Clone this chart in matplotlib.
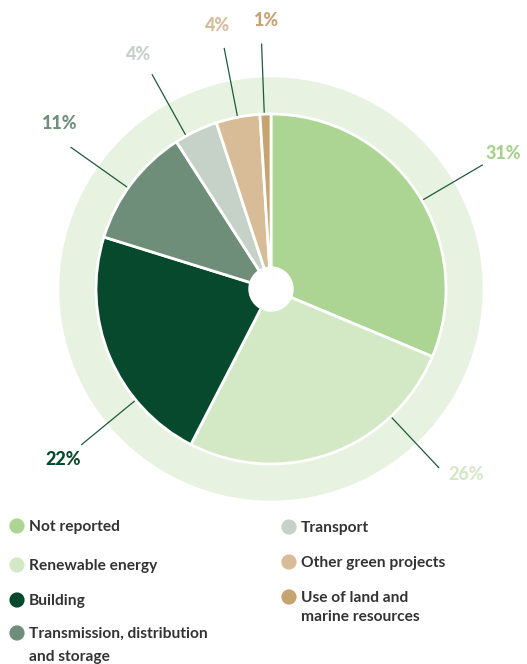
import matplotlib
matplotlib.use("Agg")
import matplotlib.pyplot as plt
import numpy as np
from matplotlib.patches import Circle

# Share of green bond proceeds by use category (%)
categories = ["Not reported", "Renewable energy", "Building",
              "Transmission, distribution\nand storage", "Transport",
              "Other green projects", "Use of land and\nmarine resources"]
values = [31, 26, 22, 11, 4, 4, 1]
value_labels = ["31%", "26%", "22%", "11%", "4%", "4%", "1%"]

colors = ["#acd593", "#d3e9c6", "#07492d", "#6f8e7a", "#c6d1c8", "#d8bc98", "#c5a470"]
label_colors = ["#a8d08d", "#d4e8c8", "#084a2c", "#6f8f7b", "#c5d0c8", "#d6bc98", "#c4a472"]
ring_color = "#e7f2e0"
leader_color = "#1f5a3c"
text_color = "#333333"

# Leader-line angles (deg) and label text angles
leader_angles = [30.4, -46.8, -140.6, 144.7, 119.0, 101.0, 92.2]
text_angles = [30.3, -43.5, -140.6, 141.9, 119.4, 101.4, 91.0]

W, H = 527, 664
fig = plt.figure(figsize=(W / 100, H / 100), dpi=100)
ax = fig.add_axes([0, 0, 1, 1])

cx, cy = 271, H - 289
r_pie, r_ring, r_hole = 175, 211, 22

ax.add_patch(Circle((cx, cy), r_ring, color=ring_color, zorder=0))
ax.pie(values, colors=colors, startangle=90, counterclock=False,
       center=(cx, cy), radius=r_pie, frame=True,
       wedgeprops=dict(edgecolor="white", linewidth=2))
ax.set_xlim(0, W)
ax.set_ylim(0, H)
ax.set_aspect("equal")
ax.axis("off")
ax.add_patch(Circle((cx, cy), r_hole, color="white", zorder=5))

for lab, col, la, ta in zip(value_labels, label_colors, leader_angles, text_angles):
    a = np.deg2rad(la)
    ax.plot([cx + 177 * np.cos(a), cx + 245 * np.cos(a)],
            [cy + 177 * np.sin(a), cy + 245 * np.sin(a)],
            color=leader_color, lw=0.9, zorder=6)
    t = np.deg2rad(ta)
    ax.text(cx + 269 * np.cos(t), cy + 269 * np.sin(t), lab, color=col,
            fontsize=13, fontweight="black", family="Lato",
            ha="center", va="center", zorder=6)

# Two-column legend
left_x, right_x = 17, 289
rows_left = [526, 565, 600, 633]
rows_right = [527, 562, 597]
line_gaps = [0, 0, 0, 23, 0, 0, 19]
positions = [(left_x, y) for y in rows_left] + [(right_x, y) for y in rows_right]
for cat, col, (mx, my), gap in zip(categories, colors, positions, line_gaps):
    ax.scatter([mx], [H - my], s=120, color=col, edgecolor="none", zorder=6)
    for i, line in enumerate(cat.split("\n")):
        ax.text(mx + 12, H - my - 1 - i * gap, line, color=text_color, fontsize=11.2,
                fontweight="bold", family="Lato", ha="left", va="center", zorder=6)

fig.savefig("out.png", dpi=100)
